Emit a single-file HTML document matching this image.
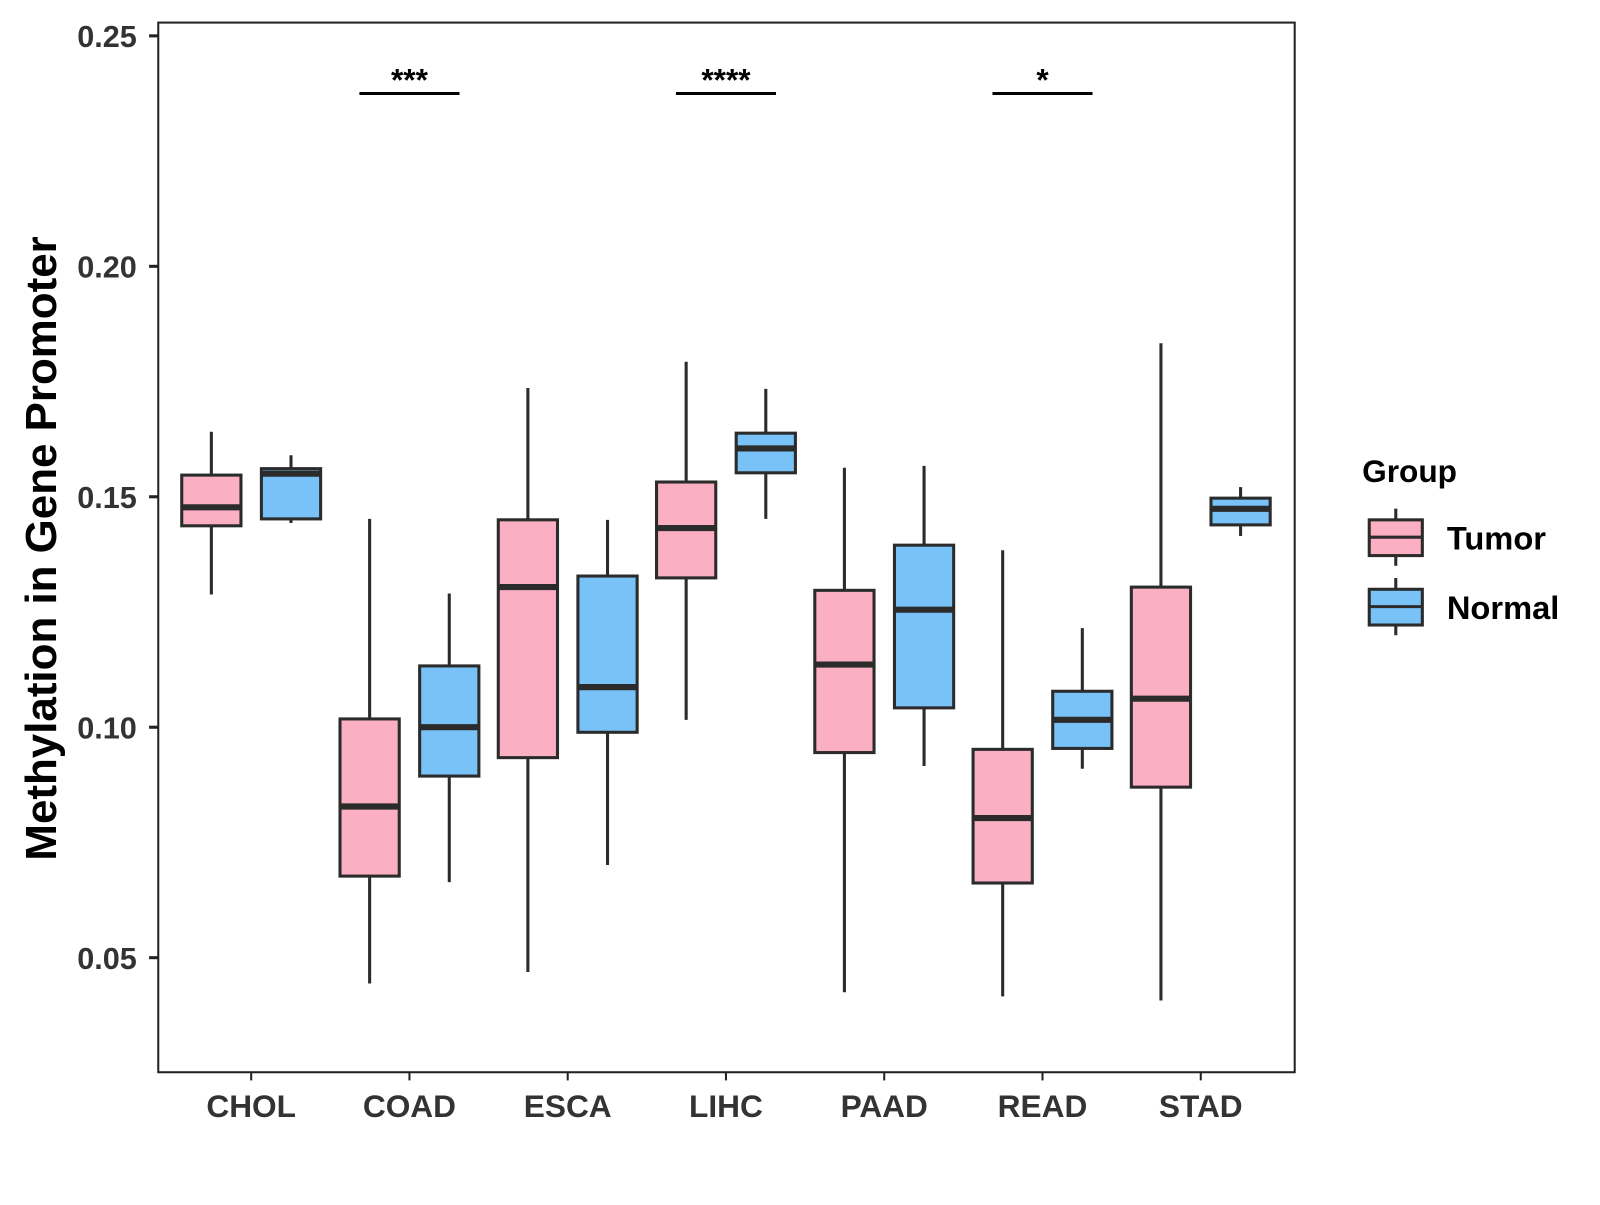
<!DOCTYPE html>
<html><head><meta charset="utf-8"><style>
body{margin:0;background:#fff;}
svg text{font-family:"Liberation Sans",Arial,sans-serif;font-weight:bold;}
</style></head><body>
<svg id="chart" width="1600" height="1200" viewBox="0 0 1567 1175" xmlns="http://www.w3.org/2000/svg">
<rect x="155" y="22" width="1113" height="1028" fill="#fff" stroke="#222" stroke-width="2"/>
<g id="marks"></g>
<g id="axes"></g>
<text transform="translate(55,537) rotate(-90)" text-anchor="middle" font-size="43" fill="#000">Methylation in Gene Promoter</text>
<g>
<text x="1334" y="472" font-size="31" fill="#000">Group</text>
<g>
<line x1="1367" y1="498" x2="1367" y2="554" stroke="#2b2b2b" stroke-width="3"/>
<rect x="1341" y="509" width="52" height="35" fill="#FBAFC2" stroke="#2b2b2b" stroke-width="3"/>
<line x1="1341" y1="526" x2="1393" y2="526" stroke="#2b2b2b" stroke-width="3"/>
<text x="1417" y="538" font-size="32" fill="#000">Tumor</text></g>
<g>
<line x1="1367" y1="566" x2="1367" y2="622" stroke="#2b2b2b" stroke-width="3"/>
<rect x="1341" y="577" width="52" height="35" fill="#79C2F8" stroke="#2b2b2b" stroke-width="3"/>
<line x1="1341" y1="594" x2="1393" y2="594" stroke="#2b2b2b" stroke-width="3"/>
<text x="1417" y="606" font-size="32" fill="#000">Normal</text></g>
</g>
</svg>
<script>
const categories=["CHOL","COAD","ESCA","LIHC","PAAD","READ","STAD"];
// [low, q1, median, q3, high]
const tumorStats=[[0.1288,0.1437,0.1477,0.1547,0.1641],[0.0444,0.0677,0.0828,0.1018,0.1452],[0.0469,0.0934,0.1304,0.145,0.1736],[0.1016,0.1324,0.1432,0.1532,0.1793],[0.0425,0.0945,0.1136,0.1297,0.1563],[0.0416,0.0662,0.0803,0.0952,0.1384],[0.0407,0.087,0.1062,0.1304,0.1833]];
const normalStats=[[0.1443,0.1452,0.155,0.1561,0.159],[0.0664,0.0894,0.1,0.1133,0.129],[0.0701,0.0989,0.1087,0.1328,0.145],[0.1452,0.1552,0.1605,0.1638,0.1734],[0.0916,0.1042,0.1255,0.1395,0.1567],[0.091,0.0954,0.1016,0.1078,0.1215],[0.1415,0.1439,0.1474,0.1497,0.1521]];
const yTicks=[0.05,0.10,0.15,0.20,0.25];
const yTickLabels=["0.05","0.10","0.15","0.20","0.25"];
const sigCategories=["COAD","LIHC","READ"];
const sigLabels=["***","****","*"];
const sigLevel=0.2375;

const NS="http://www.w3.org/2000/svg";
const y=v=>35+(0.25-v)*225.7/0.05;
const x=i=>246+i*155;
function mk(tag,attrs,parent){const e=document.createElementNS(NS,tag);for(const k in attrs)e.setAttribute(k,attrs[k]);parent.appendChild(e);return e;}
const marks=document.getElementById('marks'),axes=document.getElementById('axes');
const S="#2b2b2b";
function drawBox(cx,s,fill,name){
  const g=mk('g',{},marks);
  
  
  mk('line',{x1:cx,x2:cx,y1:y(s[4]),y2:y(s[0]),stroke:S,'stroke-width':3},g);
  mk('rect',{x:cx-29,width:58,y:y(s[3]),height:y(s[1])-y(s[3]),fill:fill,stroke:S,'stroke-width':3},g);
  mk('line',{x1:cx-29,x2:cx+29,y1:y(s[2]),y2:y(s[2]),stroke:S,'stroke-width':6},g);
}
categories.forEach((c,i)=>{
  drawBox(x(i)-39,tumorStats[i],"#FBAFC2","box-"+c.toLowerCase()+"-tumor");
  drawBox(x(i)+39,normalStats[i],"#79C2F8","box-"+c.toLowerCase()+"-normal");
  mk('line',{x1:x(i),x2:x(i),y1:1050,y2:1058,stroke:'#222','stroke-width':2},axes);
  const t=mk('text',{x:x(i),y:1094,'text-anchor':'middle','font-size':31,fill:'#333'},axes);
  t.textContent=c;
  
  
});
yTicks.forEach((v,i)=>{
  mk('line',{x1:146,x2:155,y1:y(v),y2:y(v),stroke:'#222','stroke-width':3},axes);
  const t=mk('text',{x:134,y:y(v)+11,'text-anchor':'end','font-size':30,fill:'#333'},axes);
  t.textContent=yTickLabels[i];
  
  
});
sigCategories.forEach((c,k)=>{
  const i=categories.indexOf(c);
  const g=mk('g',{},marks);
  
  
  mk('line',{x1:x(i)-49,x2:x(i)+49,y1:y(sigLevel),y2:y(sigLevel),stroke:'#000','stroke-width':3},g);
  const t=mk('text',{x:x(i),y:y(sigLevel)-3,'text-anchor':'middle','font-size':31,fill:'#000'},g);
  t.textContent=sigLabels[k];
});
</script>
</body></html>
